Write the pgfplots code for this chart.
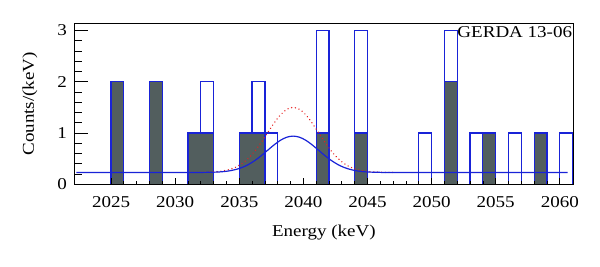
\documentclass[border=0pt]{standalone}
\usepackage{fontspec}
\setmainfont{Liberation Serif}[FakeStretch=1.15]
\usepackage{pgfplots}
\pgfplotsset{compat=1.18}
\definecolor{hblue}{RGB}{25,35,215}
\definecolor{hgray}{RGB}{82,94,94}
\definecolor{fred}{RGB}{230,30,30}
\begin{document}
\begin{tikzpicture}
\begin{axis}[
  scale only axis, width=498.8bp, height=161bp,
  xmin=2022.15, xmax=2061.05, ymin=0, ymax=3.14,
  axis on top,
  axis line style={line width=1.1pt, black},
  xtick={2025,2030,...,2060}, minor x tick num=4,
  ytick={0,1,2,3}, minor y tick num=4,
  tick align=inside, xtick pos=bottom, ytick pos=left,
  xtick style={/pgfplots/major tick length=6bp,/pgfplots/minor tick length=3.5bp, black, line width=0.8pt},
  ytick style={/pgfplots/major tick length=14bp,/pgfplots/minor tick length=8bp, black, line width=0.8pt},
  font=\fontsize{16.6}{19}\selectfont,
  /pgf/number format/assume math mode=true,
  /pgf/number format/1000 sep={},
  xticklabel style={anchor=center, yshift=-18bp},
  yticklabel style={anchor=east, xshift=-4bp},
  xlabel={Energy (keV)}, ylabel={Counts/(keV)},
  xlabel style={at={(rel axis cs:0.5,-0.298)}, anchor=center},
  ylabel style={at={(rel axis cs:-0.0892,0.5)}, anchor=center},
  openh/.style={const plot mark left, fill=white, draw=hblue, line width=1.2pt},
  fillh/.style={const plot mark left, fill=hgray, draw=hblue, line width=1.2pt},
]
% all events
\addplot[openh] coordinates {(2025,0)(2025,2)(2026,0)} \closedcycle;
\addplot[openh] coordinates {(2028,0)(2028,2)(2029,0)} \closedcycle;
\addplot[openh] coordinates {(2031,0)(2031,1)(2032,2)(2033,0)} \closedcycle;
\addplot[openh] coordinates {(2035,0)(2035,1)(2036,2)(2037,1)(2038,0)} \closedcycle;
\addplot[openh] coordinates {(2041,0)(2041,3)(2042,0)} \closedcycle;
\addplot[openh] coordinates {(2044,0)(2044,3)(2045,0)} \closedcycle;
\addplot[openh] coordinates {(2049,0)(2049,1)(2050,0)} \closedcycle;
\addplot[openh] coordinates {(2051,0)(2051,3)(2052,0)} \closedcycle;
\addplot[openh] coordinates {(2053,0)(2053,1)(2054,1)(2055,0)} \closedcycle;
\addplot[openh] coordinates {(2056,0)(2056,1)(2057,0)} \closedcycle;
\addplot[openh] coordinates {(2058,0)(2058,1)(2059,0)} \closedcycle;
\addplot[openh] coordinates {(2060,0)(2060,1)(2061,0)} \closedcycle;
% after selection
\addplot[fillh] coordinates {(2025,0)(2025,2)(2026,0)} \closedcycle;
\addplot[fillh] coordinates {(2028,0)(2028,2)(2029,0)} \closedcycle;
\addplot[fillh] coordinates {(2031,0)(2031,1)(2033,0)} \closedcycle;
\addplot[fillh] coordinates {(2035,0)(2035,1)(2037,0)} \closedcycle;
\addplot[fillh] coordinates {(2041,0)(2041,1)(2042,0)} \closedcycle;
\addplot[fillh] coordinates {(2044,0)(2044,1)(2045,0)} \closedcycle;
\addplot[fillh] coordinates {(2051,0)(2051,2)(2052,0)} \closedcycle;
\addplot[fillh] coordinates {(2054,0)(2054,1)(2055,0)} \closedcycle;
\addplot[fillh] coordinates {(2058,0)(2058,1)(2059,0)} \closedcycle;
% red dotted model
\addplot[fred, line width=1.5pt, dash pattern=on 0.01pt off 3.8pt, line cap=round, smooth] coordinates {
(2031.2,0.230)(2032.2,0.233)(2033.2,0.244)(2033.7,0.259)(2034.2,0.286)(2034.7,0.331)(2035.2,0.402)(2035.7,0.505)(2036.2,0.642)(2036.7,0.811)(2037.2,1.000)(2037.7,1.189)(2038.2,1.351)(2038.7,1.461)(2039.2,1.500)(2039.7,1.461)(2040.2,1.351)(2040.7,1.189)(2041.2,1.000)(2041.7,0.811)(2042.2,0.642)(2042.7,0.505)(2043.2,0.402)(2043.7,0.331)(2044.2,0.286)(2044.7,0.259)(2045.2,0.244)(2046.2,0.233)(2047.2,0.230)};
% blue fit
\addplot[hblue, line width=1.2pt, smooth] coordinates {
(2022.3,0.230)(2031.2,0.230)(2032.2,0.232)(2033.2,0.238)(2033.7,0.246)(2034.2,0.261)(2034.7,0.287)(2035.2,0.326)(2035.7,0.384)(2036.2,0.461)(2036.7,0.555)(2037.2,0.661)(2037.7,0.766)(2038.2,0.857)(2038.7,0.918)(2039.2,0.940)(2039.7,0.918)(2040.2,0.857)(2040.7,0.766)(2041.2,0.661)(2041.7,0.555)(2042.2,0.461)(2042.7,0.384)(2043.2,0.326)(2043.7,0.287)(2044.2,0.261)(2044.7,0.246)(2045.2,0.238)(2046.2,0.232)(2047.2,0.230)(2060.6,0.230)};
\node[anchor=north east, inner sep=1pt] at (rel axis cs:1,0.985) {GERDA 13-06};
\coordinate (bl) at (rel axis cs:0,0);
\coordinate (tr) at (rel axis cs:1,1);
\end{axis}
\pgfresetboundingbox
\path[use as bounding box] ([xshift=-74.5bp,yshift=-82.7bp]bl) rectangle ([xshift=26.7bp,yshift=23.3bp]tr);
\end{tikzpicture}
\end{document}
